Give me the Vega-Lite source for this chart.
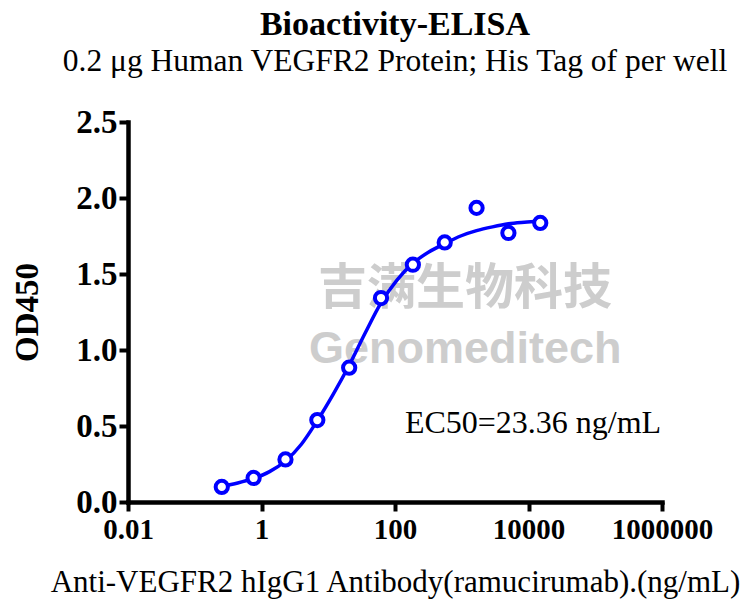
{
  "$schema": "https://vega.github.io/schema/vega-lite/v6.json",
  "width": 534,
  "height": 380,
  "autosize": {"type": "none"},
  "padding": {"left": 128, "top": 122, "right": 80, "bottom": 97},
  "background": "white",
  "title": {
    "text": "Bioactivity-ELISA",
    "subtitle": "0.2 μg Human VEGFR2 Protein; His Tag of per well",
    "anchor": "middle",
    "frame": "group",
    "font": "Liberation Serif",
    "fontSize": 34,
    "fontWeight": "bold",
    "color": "black",
    "subtitleFont": "Liberation Serif",
    "subtitleFontSize": 31.5,
    "subtitleColor": "black",
    "subtitlePadding": 4,
    "offset": 29
  },
  "config": {
    "view": {"stroke": null},
    "axis": {
      "grid": false,
      "domainColor": "black",
      "domainWidth": 4.5,
      "domainCap": "square",
      "tickColor": "black",
      "tickWidth": 4,
      "tickSize": 9,
      "labelFont": "Liberation Serif",
      "labelFontWeight": "bold",
      "labelColor": "black",
      "labelFlush": false,
      "labelOverlap": false,
      "titleFont": "Liberation Serif",
      "titleColor": "black"
    }
  },
  "datasets": {
    "points": [
      {"conc": 0.254, "od": 0.099},
      {"conc": 0.762, "od": 0.158},
      {"conc": 2.286, "od": 0.28},
      {"conc": 6.859, "od": 0.539},
      {"conc": 20.58, "od": 0.884},
      {"conc": 61.73, "od": 1.342},
      {"conc": 185.2, "od": 1.561},
      {"conc": 555.6, "od": 1.708},
      {"conc": 1667, "od": 1.935},
      {"conc": 5000, "od": 1.77},
      {"conc": 15000, "od": 1.836}
    ],
    "curve": [
      {"conc": 0.254, "od": 0.103},
      {"conc": 0.44, "od": 0.125},
      {"conc": 0.762, "od": 0.155},
      {"conc": 1.32, "od": 0.2},
      {"conc": 2.286, "od": 0.27},
      {"conc": 3.96, "od": 0.38},
      {"conc": 6.859, "od": 0.535},
      {"conc": 11.9, "od": 0.71},
      {"conc": 20.58, "od": 0.9},
      {"conc": 35.6, "od": 1.11},
      {"conc": 61.73, "od": 1.31},
      {"conc": 107, "od": 1.46},
      {"conc": 185.2, "od": 1.57},
      {"conc": 321, "od": 1.645},
      {"conc": 555.6, "od": 1.7},
      {"conc": 962, "od": 1.75},
      {"conc": 1667, "od": 1.785},
      {"conc": 2887, "od": 1.81},
      {"conc": 5000, "od": 1.83},
      {"conc": 8660, "od": 1.84},
      {"conc": 15000, "od": 1.847}
    ],
    "notes": [
      {"conc": 1117, "od": 1.403, "label": "吉满生物科技", "kind": "cn"},
      {"conc": 1130, "od": 1.007, "label": "Genomeditech", "kind": "en"},
      {"conc": 140.7, "od": 0.451, "label": "EC50=23.36 ng/mL", "kind": "ec50"}
    ]
  },
  "encoding": {
    "x": {
      "field": "conc",
      "type": "quantitative",
      "scale": {"type": "log", "domain": [0.01, 1000000], "nice": false},
      "axis": {
        "values": [0.01, 1, 100, 10000, 1000000],
        "labelExpr": "datum.value < 1 ? '0.01' : format(datum.value, 'd')",
        "labelFontSize": 29,
        "labelPadding": 4,
        "title": "Anti-VEGFR2 hIgG1 Antibody(ramucirumab).(ng/mL)",
        "titleFontSize": 31,
        "titleFontWeight": "normal",
        "titlePadding": 23
      }
    },
    "y": {
      "field": "od",
      "type": "quantitative",
      "scale": {"domain": [0, 2.5], "nice": false},
      "axis": {
        "values": [0, 0.5, 1, 1.5, 2, 2.5],
        "format": ".1f",
        "labelFontSize": 33,
        "labelPadding": 2,
        "title": "OD450",
        "titleFontSize": 33,
        "titleFontWeight": "bold",
        "titlePadding": 31
      }
    }
  },
  "layer": [
    {
      "data": {"name": "notes"},
      "transform": [{"filter": "datum.kind === 'cn'"}],
      "mark": {"type": "text", "font": "Noto Sans CJK SC", "fontWeight": "bold", "fontSize": 49, "color": "#cdcdcd", "align": "center", "baseline": "middle"},
      "encoding": {"text": {"field": "label"}}
    },
    {
      "data": {"name": "notes"},
      "transform": [{"filter": "datum.kind === 'en'"}],
      "mark": {"type": "text", "font": "Liberation Sans", "fontWeight": "bold", "fontSize": 45, "color": "#cdcdcd", "align": "center", "baseline": "middle"},
      "encoding": {"text": {"field": "label"}}
    },
    {
      "data": {"name": "curve"},
      "mark": {"type": "line", "color": "#0000ff", "strokeWidth": 3.5, "interpolate": "monotone"},
      "encoding": {}
    },
    {
      "data": {"name": "points"},
      "mark": {"type": "point", "shape": "circle", "filled": true, "fill": "white", "stroke": "#0000ff", "strokeWidth": 4, "size": 150, "opacity": 1}
    },
    {
      "data": {"name": "notes"},
      "transform": [{"filter": "datum.kind === 'ec50'"}],
      "mark": {"type": "text", "font": "Liberation Serif", "fontSize": 32, "color": "black", "align": "left", "baseline": "alphabetic"},
      "encoding": {"text": {"field": "label"}}
    }
  ]
}
